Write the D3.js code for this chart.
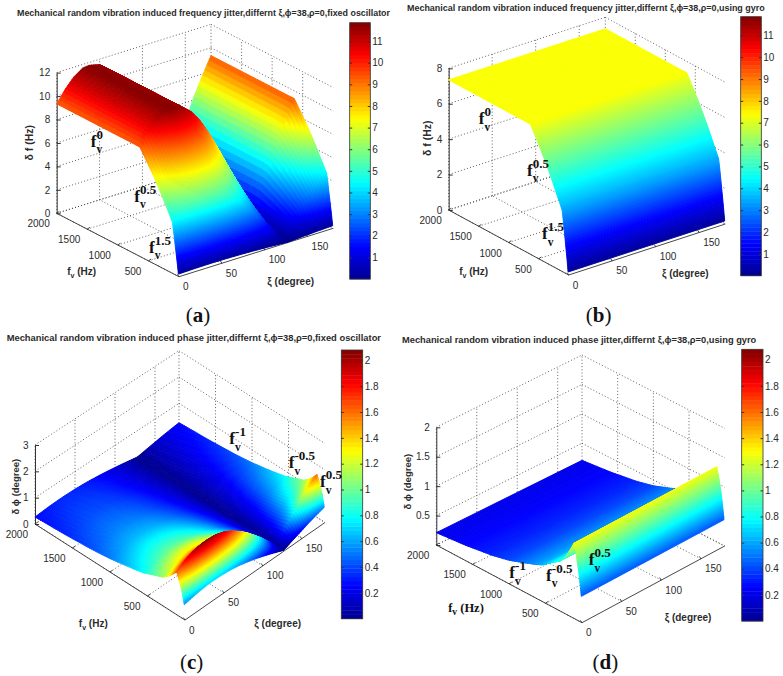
<!DOCTYPE html>
<html>
<head>
<meta charset="utf-8">
<title>Mechanical random vibration induced jitter</title>
<script src="https://cdn.jsdelivr.net/npm/d3@7"></script>
<style>
  html, body { margin: 0; padding: 0; background: #fff; }
  svg { display: block; }
  text { font-family: "Liberation Sans", Arial, sans-serif; fill: #2b2b2b; }
  .serif, .serif text { font-family: "Liberation Serif", "Times New Roman", serif; fill: #111; }
</style>
</head>
<body>
<svg id="chart" width="783" height="676"></svg>
<script>
// Vibration orientation, and the fixed-oscillator response relative to the gyro-stabilised one.
const xiDegrees = [0, 10, 20, 30, 38, 50, 60, 70, 80, 90, 100, 110, 120, 128, 140, 150, 160, 170, 180];
const fixedToGyroRatio = [1.27, 1.41, 1.52, 1.59, 1.60, 1.57, 1.49, 1.36, 1.19, 0.99, 0.75, 0.50, 0.22, 0.0, 0.33, 0.59, 0.85, 1.07, 1.27];
const flatXiDegrees = [0, 180];
const flatRatio = [1, 1];

// Gyro-stabilised jitter against vibration frequency.
const freqFvHz = [10, 30, 60, 90, 110, 150, 200, 280, 360, 440, 520, 600, 640, 2000];
const deltaFHz = [0.15, 0.9, 1.9, 2.9, 3.46, 3.8, 4.2, 4.86, 5.47, 6.05, 6.58, 7.1, 7.35, 7.35];
const phaseFvHz = [10, 20, 30, 45, 60, 80, 110, 160, 229, 300, 412, 550, 640, 778, 1000, 1235, 1600, 2000];
const deltaPhiDeg = [0.44, 0.56, 0.68, 0.83, 0.95, 1.1, 1.28, 1.14, 0.97, 0.85, 0.75, 0.62, 0.57, 0.5, 0.4, 0.33, 0.26, 0.21];

// Tick labels.
const xiTicks = [0, 50, 100, 150];
const fvTicks = [500, 1000, 1500, 2000];
const zTicksA = [0, 2, 4, 6, 8, 10, 12];
const zTicksB = [0, 2, 4, 6, 8];
const zTicksC = [0, 1, 2, 3];
const zTicksD = [0, 0.5, 1, 1.5, 2];
const barTicksFreq = [1, 2, 3, 4, 5, 6, 7, 8, 9, 10, 11];
const barTicksPhase = [0.2, 0.4, 0.6, 0.8, 1, 1.2, 1.4, 1.6, 1.8, 2];
const climFreq = [0, 11.85];
const climPhase = [0, 2.08];

const titles = [
  "Mechanical random vibration induced frequency jitter,differnt ξ,ϕ=38,ρ=0,fixed oscillator",
  "Mechanical random vibration induced frequency jitter,differnt ξ,ϕ=38,ρ=0,using gyro",
  "Mechanical random vibration induced phase jitter,differnt ξ,ϕ=38,ρ=0,fixed oscillator",
  "Mechanical random vibration induced phase jitter,differnt ξ,ϕ=38,ρ=0,using gyro"
];

// MATLAB jet colour ramp.
const jetPositions = [0, 0.125, 0.375, 0.625, 0.875, 1];
const jetColours = ["#00008f", "#0000ff", "#00ffff", "#ffff00", "#ff0000", "#800000"];
const jet = d3.scaleLinear().domain(jetPositions).range(jetColours)
  .interpolate(d3.interpolateRgb).clamp(true);

const panels = [
  { letter: "a", title: titles[0], xi: xiDegrees, ratio: fixedToGyroRatio, fv: freqFvHz, z: deltaFHz,
    zTicks: zTicksA, zMax: 12, clim: climFreq, barTicks: barTicksFreq, zLabel: "δ f (Hz)", zLabelSize: 10.5,
    O: [179, 276.7], X: [333.3, 228.3], Y: [56.7, 213.3], B: [211, 165], H: 140.7,
    bar: [349.7, 370.3, 22.7, 279], titleBox: [17, 390, 15.5],
    zLab: [29.3, 142.7], fvLab: [81.7, 271.7], xiLab: [290.7, 281.7], tag: [198, 322],
    notes: [["0", 90.7, 146.7], ["0.5", 134.3, 201.7], ["1.5", 149, 252.7]] },
  { letter: "b", title: titles[1], xi: flatXiDegrees, ratio: flatRatio, fv: freqFvHz, z: deltaFHz,
    zTicks: zTicksB, zMax: 8, clim: climFreq, barTicks: barTicksFreq, zLabel: "δ f (Hz)", zLabelSize: 10.5,
    O: [568.7, 275], X: [725.3, 224], Y: [448.7, 210], B: [605.3, 159], H: 141.7,
    bar: [740.7, 761.3, 16.7, 275.7], titleBox: [407, 764.7, 11],
    zLab: [427, 138.3], fvLab: [473.7, 271.7], xiLab: [685.3, 273.3], tag: [598.7, 322],
    notes: [["0", 478.7, 124], ["0.5", 527, 175.7], ["1.5", 542, 239]] },
  { letter: "c", title: titles[2], xi: xiDegrees, ratio: fixedToGyroRatio, fv: phaseFvHz, z: deltaPhiDeg,
    zTicks: zTicksC, zMax: 3, clim: climPhase, barTicks: barTicksPhase, zLabel: "δ ϕ (degree)", zLabelSize: 9.5,
    O: [185, 620], X: [325, 522.5], Y: [35, 524], B: [179, 429.7], H: 79,
    bar: [341.3, 362.7, 350, 618.7], titleBox: [6.7, 381, 341],
    zLab: [15, 486.7], fvLab: [93.3, 623.3], xiLab: [277.7, 623.3], tag: [191.7, 669],
    notes: [["-1", 229.3, 444], ["-0.5", 288.7, 468.3], ["0.5", 320, 487.3]] },
  { letter: "d", title: titles[3], xi: flatXiDegrees, ratio: flatRatio, fv: phaseFvHz, z: deltaPhiDeg,
    zTicks: zTicksD, zMax: 2, clim: climPhase, barTicks: barTicksPhase, zLabel: "δ ϕ (degree)", zLabelSize: 9.5,
    O: [582, 622.7], X: [724.7, 546], Y: [436.3, 545], B: [582, 472.7], H: 117.7,
    bar: [741.7, 763, 349.3, 621], titleBox: [402, 756.3, 343],
    zLab: [407, 481.7], fvLab: [466, 608.3], xiLab: [688, 617.3], tag: [605.3, 669],
    serifFv: true, hideZero: true,
    notes: [["-1", 509.3, 578.3], ["-0.5", 546, 580.7], ["0.5", 588.7, 565]] }
];

const svg = d3.select("#chart");

function drawPanel(p) {
  const g = svg.append("g").attr("class", "panel-" + p.letter);

  // Box projection: the floor is a quadrilateral spanned by its four on-screen corners.
  const sXi = d3.scaleLinear().domain([0, 180]).range([0, 1]);
  const sFv = d3.scaleLinear().domain([0, 2000]).range([0, 1]);
  const sZ = d3.scaleLinear().domain([0, p.zMax]).range([0, p.H]);
  const corner = k => {
    const front = d3.scaleLinear().domain([0, 1]).range([p.O[k], p.X[k]]);
    const rear = d3.scaleLinear().domain([0, 1]).range([p.Y[k], p.B[k]]);
    return (u, v) => front(u) * (1 - v) + rear(u) * v;
  };
  const floorX = corner(0), floorY = corner(1);
  const project = (xi, fv, z) => [
    floorX(sXi(xi), sFv(fv)),
    floorY(sXi(xi), sFv(fv)) - sZ(z)
  ];

  // Dotted grid on the floor and the two rear walls.
  const zTop = p.zMax;
  const gridSegments = [];
  xiTicks.forEach(t => {
    gridSegments.push([[t, 0, 0], [t, 2000, 0]]);
    gridSegments.push([[t, 2000, 0], [t, 2000, zTop]]);
  });
  fvTicks.forEach(t => {
    gridSegments.push([[0, t, 0], [180, t, 0]]);
    gridSegments.push([[180, t, 0], [180, t, zTop]]);
  });
  p.zTicks.forEach(t => {
    gridSegments.push([[0, 2000, t], [180, 2000, t]]);
    gridSegments.push([[180, 2000, t], [180, 0, t]]);
  });
  gridSegments.push([[180, 2000, 0], [180, 0, 0]]);
  g.append("g").selectAll("line").data(gridSegments).join("line")
    .each(function (s) {
      const a = project(...s[0]), b = project(...s[1]);
      d3.select(this).attr("x1", a[0]).attr("y1", a[1]).attr("x2", b[0]).attr("y2", b[1]);
    })
    .attr("stroke", "#3a3a3a").attr("stroke-width", 0.8).attr("stroke-dasharray", "1 2.2");

  // Solid axis edges.
  const yEnd = project(0, 2000, 0);
  const axisEdges = [[[0, 0, 0], [180, 0, 0]], [[0, 0, 0], [0, 2000, 0]]];
  g.append("g").selectAll("line").data(axisEdges).join("line")
    .each(function (s) {
      const a = project(...s[0]), b = project(...s[1]);
      d3.select(this).attr("x1", a[0]).attr("y1", a[1]).attr("x2", b[0]).attr("y2", b[1]);
    })
    .attr("stroke", "#333").attr("stroke-width", 0.9);

  // Vertical axis.
  const zPx = d3.scaleLinear().domain([0, p.zMax]).range([yEnd[1], yEnd[1] - p.H]);
  const zAxis = g.append("g").attr("transform", `translate(${yEnd[0]},0)`)
    .call(d3.axisLeft(zPx).tickValues(p.zTicks).tickSizeOuter(0).tickSizeInner(-4).tickPadding(6.5)
      .tickFormat(d => (p.hideZero && d === 0) ? "" : d));
  zAxis.selectAll("text").style("font-size", "10px").style("font-family", "'Liberation Sans'");
  zAxis.selectAll("path,line").attr("stroke", "#333");

  // Ticks and labels on the two slanted edges.
  const xiTickG = g.append("g").selectAll("g").data(xiTicks).join("g")
    .attr("transform", d => { const q = project(d, 0, 0); return `translate(${q[0]},${q[1]})`; });
  xiTickG.append("line").attr("x2", -1.6).attr("y2", -2.4).attr("stroke", "#333").attr("stroke-width", 0.9);
  xiTickG.append("text").attr("x", 4).attr("y", 13.5).attr("font-size", 10).text(d => d);

  const fvTickG = g.append("g").selectAll("g").data(fvTicks).join("g")
    .attr("transform", d => { const q = project(0, d, 0); return `translate(${q[0]},${q[1]})`; });
  fvTickG.append("line").attr("x2", 2.6).attr("y2", -1.8).attr("stroke", "#333").attr("stroke-width", 0.9);
  fvTickG.append("text").attr("x", -7).attr("y", 14).attr("text-anchor", "end").attr("font-size", 10).text(d => d);

  // Surface: profiles are sampled finely for shading, then painted rear to front.
  const zOfFv = d3.scaleLinear().domain(p.fv).range(p.z);
  const ratioOfXi = d3.scaleLinear().domain(p.xi).range(p.ratio);
  const fvMesh = d3.range(10, 130, 3).concat(d3.range(130, 700, 7), d3.range(700, 2000, 25), [2000]);
  const xiMesh = p.xi.length > 2 ? d3.range(0, 180, 2.5).concat([180]) : p.xi;
  const heightAt = (xi, fv) => zOfFv(fv) * ratioOfXi(xi);
  const cells = [];
  for (let j = fvMesh.length - 2; j >= 0; j--) {
    for (let i = xiMesh.length - 2; i >= 0; i--) {
      const x0 = xiMesh[i], x1 = xiMesh[i + 1], f0 = fvMesh[j], f1 = fvMesh[j + 1];
      const corners = [[x0, f0], [x1, f0], [x1, f1], [x0, f1]].map(c => [c[0], c[1], heightAt(c[0], c[1])]);
      cells.push({ corners, mean: d3.mean(corners, c => c[2]) });
    }
  }
  const colourOf = v => jet((v - p.clim[0]) / (p.clim[1] - p.clim[0]));
  const quad = d3.line();
  g.append("g").selectAll("path").data(cells).join("path")
    .attr("d", c => quad(c.corners.map(k => project(...k))) + "Z")
    .attr("fill", c => colourOf(c.mean))
    .attr("stroke", c => colourOf(c.mean))
    .attr("stroke-width", 0.9);

  // Colour bar with 64 levels and inward ticks on both sides.
  const [bx0, bx1, by0, by1] = p.bar;
  const barScale = d3.scaleLinear().domain(p.clim).range([by1, by0]);
  const levels = d3.range(64);
  const levelH = (by1 - by0) / 64;
  g.append("g").selectAll("rect").data(levels).join("rect")
    .attr("x", bx0).attr("width", bx1 - bx0)
    .attr("y", d => by1 - (d + 1) * levelH).attr("height", levelH + 0.4)
    .attr("fill", d => jet((d + 0.5) / 64));
  g.append("rect").attr("x", bx0).attr("y", by0).attr("width", bx1 - bx0).attr("height", by1 - by0)
    .attr("fill", "none").attr("stroke", "#333").attr("stroke-width", 0.8);
  const barRight = g.append("g").attr("transform", `translate(${bx1},0)`)
    .call(d3.axisRight(barScale).tickValues(p.barTicks).tickSizeOuter(0).tickSizeInner(-2.5).tickPadding(2)
      .tickFormat(d => d));
  barRight.selectAll("text").style("font-size", "10px").style("font-family", "'Liberation Sans'");
  barRight.selectAll("path").remove();
  barRight.selectAll("line").attr("stroke", "#333");
  const barLeft = g.append("g").attr("transform", `translate(${bx0},0)`)
    .call(d3.axisLeft(barScale).tickValues(p.barTicks).tickSizeOuter(0).tickSizeInner(-2.5).tickFormat(""));
  barLeft.selectAll("path").remove();
  barLeft.selectAll("line").attr("stroke", "#333");

  // Title and axis labels.
  g.append("text")
    .attr("x", p.titleBox[0]).attr("y", p.titleBox[2])
    .attr("textLength", p.titleBox[1] - p.titleBox[0]).attr("lengthAdjust", "spacingAndGlyphs")
    .attr("font-size", 8.6).attr("font-weight", "bold").text(p.title);
  g.append("text")
    .attr("transform", `translate(${p.zLab[0]},${p.zLab[1]}) rotate(-90)`)
    .attr("text-anchor", "middle").attr("dy", 3.5)
    .attr("font-size", p.zLabelSize).attr("font-weight", "bold").text(p.zLabel);

  const fvLabel = g.append("text").attr("x", p.fvLab[0]).attr("y", p.fvLab[1]).attr("text-anchor", "middle")
    .attr("dy", 3.5).attr("font-weight", "bold");
  if (p.serifFv) fvLabel.attr("class", "serif");
  const fvFont = p.serifFv ? 12.5 : 10;
  fvLabel.append("tspan").attr("font-size", fvFont).text("f");
  fvLabel.append("tspan").attr("font-size", fvFont - 3).attr("dy", 3).text("v");
  fvLabel.append("tspan").attr("font-size", fvFont).attr("dy", -3).text(" (Hz)");

  g.append("text").attr("x", p.xiLab[0]).attr("y", p.xiLab[1]).attr("text-anchor", "middle").attr("dy", 3.5)
    .attr("font-size", 10).attr("font-weight", "bold").text("ξ (degree)");

  // Panel tag: parentheses upright, letter bold.
  const tag = g.append("text").attr("class", "serif").attr("x", p.tag[0]).attr("y", p.tag[1])
    .attr("text-anchor", "middle").attr("font-size", 21);
  tag.append("tspan").text("(");
  tag.append("tspan").attr("font-weight", "bold").text(p.letter);
  tag.append("tspan").text(")");

  // Slope annotations beside the surface edge.
  const notes = g.append("g").attr("class", "serif").selectAll("text").data(p.notes).join("text")
    .attr("transform", d => `translate(${d[1]},${d[2]})`)
    .attr("font-weight", "bold").attr("font-size", 17);
  notes.append("tspan").text("f");
  notes.append("tspan").attr("x", 5.8).attr("y", 6.5).attr("font-size", 11.5).text("v");
  notes.append("tspan").attr("x", 5.8).attr("y", -8).attr("font-size", 13).text(d => d[0]);
}

panels.forEach(drawPanel);
</script>
</body>
</html>
